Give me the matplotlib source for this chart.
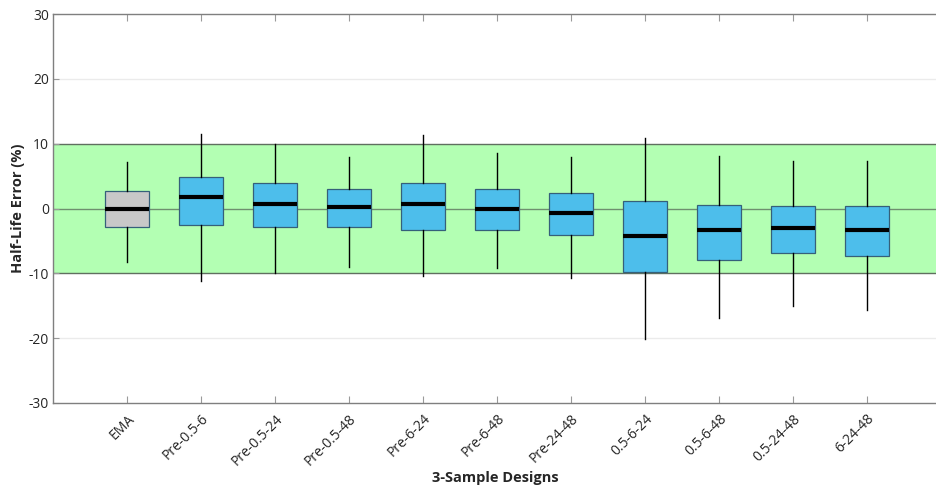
import matplotlib
matplotlib.use("Agg")
import matplotlib.pyplot as plt

plt.rcParams['font.family'] = ['Open Sans', 'DejaVu Sans']
plt.rcParams['axes.unicode_minus'] = False

categories = ["EMA", "Pre-0.5-6", "Pre-0.5-24", "Pre-0.5-48", "Pre-6-24", "Pre-6-48",
              "Pre-24-48", "0.5-6-24", "0.5-6-48", "0.5-24-48", "6-24-48"]
whisker_high = [7.2, 11.5, 10.0, 8.0, 11.3, 8.6, 7.9, 10.8, 8.1, 7.3, 7.3]
q3 = [2.7, 4.9, 4.0, 3.0, 4.0, 3.05, 2.4, 1.1, 0.6, 0.35, 0.45]
median = [-0.05, 1.7, 0.77, 0.2, 0.67, 0.0, -0.67, -4.17, -3.24, -2.98, -3.24]
q1 = [-2.9, -2.5, -2.9, -2.85, -3.25, -3.3, -4.06, -9.8, -8.0, -6.9, -7.3]
whisker_low = [-8.3, -11.2, -9.9, -9.0, -10.4, -9.2, -10.7, -20.2, -16.9, -15.0, -15.6]
box_colors = ["#C8C8C8"] + ["#4DBEEB"] * 10

fig = plt.figure(figsize=(9.37, 4.92), dpi=100)
ax = fig.add_axes([53 / 937, 89 / 492, 1 - 53 / 937, 389 / 492])

# green acceptable band
ax.axhspan(-10, 10, facecolor="#B3FFB3", edgecolor="none", zorder=0)
for yv in (-10, 10):
    ax.axhline(yv, color="#5F6F5F", lw=1.0, zorder=1)
ax.axhline(0, color="#6F8F6F", lw=1.0, zorder=1)
for yv in (-20, 20):
    ax.axhline(yv, color="#EBEBEB", lw=1.0, zorder=0.5)

stats = []
for i in range(len(categories)):
    stats.append(dict(med=median[i], q1=q1[i], q3=q3[i],
                      whislo=whisker_low[i], whishi=whisker_high[i], label=categories[i]))

positions = list(range(1, len(categories) + 1))
bp = ax.bxp(stats, positions=positions, widths=0.6, patch_artist=True, showfliers=False,
            showcaps=False,
            boxprops=dict(edgecolor="#35607A", linewidth=0.9),
            whiskerprops=dict(color="black", linewidth=1.0),
            medianprops=dict(color="black", linewidth=3.0, solid_capstyle="butt"),
            zorder=3)
for patch, c in zip(bp["boxes"], box_colors):
    patch.set_facecolor(c)

ax.set_xlim(0, 884 / 74)
ax.set_ylim(-30, 30)
ax.set_yticks([-30, -20, -10, 0, 10, 20, 30])
ax.set_xticks(positions)
ax.set_xticklabels(categories, rotation=45, ha="right", rotation_mode="anchor")

for s in ("left", "bottom", "top"):
    ax.spines[s].set_color("#7F7F7F")
    ax.spines[s].set_linewidth(1.0)
ax.spines["right"].set_visible(False)

ax.tick_params(axis="x", direction="in", length=5, color="#9A9A9A", top=True,
               labelsize=10, labelcolor="#262626", pad=6)
ax.tick_params(axis="y", direction="in", length=4, color="#9A9A9A",
               labelsize=10, labelcolor="#262626", pad=3)

ax.set_xlabel("3-Sample Designs", fontsize=10.5, fontweight="bold", color="#262626", labelpad=2)
ax.set_ylabel("Half-Life Error (%)", fontsize=10.5, fontweight="bold", color="#262626", labelpad=2.5)

fig.savefig("out.png", dpi=100)
